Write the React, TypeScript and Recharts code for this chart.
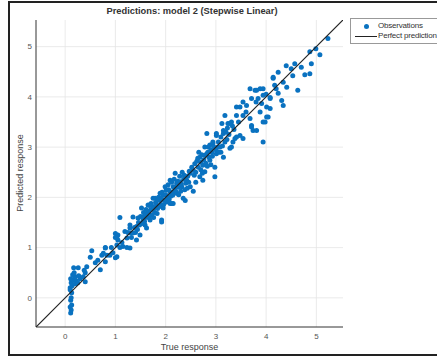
import { ScatterChart, Scatter, XAxis, YAxis, CartesianGrid } from "recharts";

// true response vs predicted response
const lowRange: [number, number][] = [
  [0.11, -0.3], [0.12, -0.24], [0.1, -0.18], [0.13, -0.14], [0.11, -0.05], [0.12, 0.0], [0.13, 0.1],
  [0.1, 0.16], [0.1, 0.2], [0.14, 0.24], [0.12, 0.3], [0.16, 0.36], [0.11, 0.38], [0.2, 0.42],
  [0.15, 0.46], [0.18, 0.5], [0.17, 0.6], [0.26, 0.6], [0.22, 0.34], [0.27, 0.44], [0.3, 0.38],
  [0.36, 0.42], [0.4, 0.32], [0.4, 0.5], [0.43, 0.62], [0.38, 0.55], [0.5, 0.81], [0.53, 0.94],
  [0.6, 0.7], [0.7, 0.56], [0.73, 0.85], [0.8, 0.72], [0.8, 1.0], [0.83, 0.85], [0.76, 0.89],
  [0.89, 0.85], [0.8, 0.99], [0.95, 0.9], [1.0, 0.8], [1.03, 0.82], [1.0, 1.2], [1.05, 1.25],
  [1.0, 1.28], [1.05, 1.15], [1.03, 1.05], [1.03, 1.19], [1.09, 1.6], [1.09, 1.0], [1.15, 1.02],
  [1.13, 1.1], [1.19, 1.32], [0.92, 1.0], [0.65, 0.75], [0.2, 0.28], [0.25, 0.3],
];

const midRange: [number, number][] = [
  [1.23, 1.0], [1.23, 1.19], [1.29, 0.99], [1.29, 1.45], [1.3, 1.29], [1.29, 1.39], [1.35, 1.29],
  [1.35, 1.61], [1.42, 1.42], [1.42, 1.15], [1.45, 1.59], [1.49, 1.25], [1.52, 1.79], [1.55, 1.55],
  [1.59, 1.45], [1.62, 1.39], [1.65, 1.85], [1.65, 1.72], [1.69, 1.55], [1.75, 1.98], [1.79, 1.98],
  [1.82, 1.85], [1.89, 2.08], [1.89, 1.94], [1.92, 1.51], [1.92, 1.55], [1.95, 1.79], [1.95, 2.04],
  [1.99, 2.21], [2.02, 1.91], [2.02, 1.94], [2.09, 2.34], [2.09, 1.88], [2.09, 2.11], [2.12, 1.88],
  [2.15, 2.11], [2.15, 2.21], [2.15, 1.88], [2.19, 2.48], [2.22, 2.28], [2.22, 2.08], [2.29, 2.31],
  [2.32, 2.21], [2.35, 1.98], [2.39, 1.94], [2.42, 2.34], [2.49, 2.48], [2.49, 2.21],
  [1.38, 1.4], [1.46, 1.5], [1.5, 1.62], [1.56, 1.7], [1.6, 1.6], [1.63, 1.66], [1.7, 1.75],
  [1.72, 1.65], [1.74, 1.82], [1.78, 1.7], [1.8, 1.9], [1.84, 1.78], [1.86, 2.0], [1.9, 1.86],
  [1.97, 1.95], [2.0, 2.05], [2.04, 2.0], [2.06, 2.15], [2.1, 2.02], [2.18, 2.2], [2.2, 2.12],
  [2.25, 2.2], [2.28, 2.42], [2.3, 2.12], [2.36, 2.36], [2.4, 2.28], [2.44, 2.42], [2.46, 2.3],
  [1.25, 1.3], [1.32, 1.2], [1.4, 1.3], [1.48, 1.45], [1.58, 1.52], [1.68, 1.84], [1.76, 1.6],
  [1.85, 1.95], [1.93, 2.1], [2.05, 2.25], [2.12, 2.3], [2.26, 2.05], [2.33, 2.5], [2.38, 2.15],
  [1.44, 1.36], [1.53, 1.48], [1.57, 1.62], [1.66, 1.6], [1.71, 1.88], [1.77, 1.78], [1.83, 1.68],
  [1.88, 1.82], [1.96, 1.86], [2.01, 2.14], [2.07, 1.96], [2.14, 2.04], [2.17, 2.36], [2.24, 2.32],
  [2.31, 2.26], [2.37, 2.44], [2.43, 2.18], [2.47, 2.52], [1.61, 1.76], [1.91, 1.98],
];

const highRange: [number, number][] = [
  [2.55, 2.54], [2.55, 2.12], [2.58, 2.67], [2.68, 2.8], [2.68, 2.41], [2.74, 2.64], [2.74, 2.34],
  [2.78, 2.84], [2.78, 2.51], [2.78, 3.0], [2.82, 3.27], [2.82, 2.87], [2.85, 3.0], [2.88, 2.74],
  [2.88, 3.04], [2.92, 2.9], [2.94, 3.07], [2.94, 3.1], [2.98, 2.6], [2.98, 2.41], [3.01, 2.87],
  [3.01, 3.23], [3.01, 3.27], [3.04, 3.0], [3.08, 3.0], [3.12, 3.47], [3.15, 3.33], [3.15, 2.8],
  [3.15, 3.27], [3.18, 3.1], [3.18, 3.63], [3.24, 3.47], [3.28, 2.98], [3.28, 3.47], [3.31, 3.5],
  [3.31, 3.0], [3.34, 3.1], [3.38, 3.17], [3.41, 3.2], [3.41, 3.63], [3.41, 3.8], [3.45, 3.5],
  [3.48, 3.23], [3.48, 3.8],
  [2.52, 2.6], [2.6, 2.5], [2.62, 2.72], [2.65, 2.6], [2.7, 2.7], [2.72, 2.85], [2.76, 2.75],
  [2.8, 2.68], [2.84, 2.9], [2.86, 2.8], [2.9, 2.95], [2.96, 3.0], [3.0, 2.95], [3.05, 3.1],
  [3.1, 3.2], [3.2, 3.3], [3.22, 3.15], [3.26, 3.25], [3.36, 3.35], [2.6, 2.3], [2.7, 2.55],
  [2.9, 2.65], [3.1, 2.9], [2.57, 2.44], [2.64, 2.78], [2.73, 2.48], [2.83, 2.62], [2.93, 2.82],
  [3.06, 2.9], [3.13, 3.02], [3.23, 3.38], [3.33, 3.42], [2.66, 2.9],
];

const topRange: [number, number][] = [
  [3.54, 3.17], [3.54, 3.9], [3.54, 3.63], [3.61, 3.83], [3.68, 3.57], [3.68, 4.16], [3.71, 3.97],
  [3.71, 3.43], [3.71, 3.4], [3.74, 3.33], [3.78, 4.13], [3.81, 4.13], [3.81, 3.33], [3.84, 3.97],
  [3.88, 3.7], [3.88, 4.16], [3.91, 3.87], [3.94, 4.16], [3.94, 3.5], [3.94, 3.1], [3.94, 4.03],
  [3.98, 3.5], [4.01, 3.6], [4.01, 3.8], [4.04, 3.6], [4.08, 3.97], [4.08, 3.77], [4.08, 3.99],
  [4.14, 4.39], [4.14, 4.37], [4.17, 4.23], [4.2, 4.16], [4.24, 4.49], [4.24, 4.07], [4.31, 3.93],
  [4.34, 4.29], [4.34, 3.83], [4.4, 4.62], [4.41, 4.19], [4.5, 4.56], [4.53, 4.42], [4.57, 4.66],
  [4.63, 4.13], [4.7, 4.59], [4.77, 4.44], [4.87, 4.9], [4.87, 4.46], [4.9, 4.66], [4.99, 4.96],
  [5.07, 4.84], [5.23, 5.16], [3.6, 3.7], [3.8, 3.9], [4.0, 4.05],
];

const ticks = [0, 1, 2, 3, 4, 5];
const axisMin = -0.58;
const axisMax = 5.53;
const perfectLine = [
  { x: axisMin, y: axisMin },
  { x: axisMax, y: axisMax },
];

const observations = [...lowRange, ...midRange, ...highRange, ...topRange].map(([x, y]) => ({ x, y }));

const BLUE = "#0a72c0";
const FONT = "'Liberation Sans', Arial, sans-serif";

const Dot = (props: any) => <circle cx={props.cx} cy={props.cy} r={2.5} fill={BLUE} />;

export default function App() {
  return (
    <div style={{ position: "fixed", left: 0, top: 0, width: 437, height: 356, background: "#fff", overflow: "hidden", fontFamily: FONT }}>
      <ScatterChart width={437} height={356} margin={{ top: 20, right: 94, bottom: 0, left: 0 }}>
        <CartesianGrid stroke="#e4e4e4" strokeWidth={0.8} horizontalValues={ticks} verticalValues={ticks} />
        <XAxis
          type="number"
          dataKey="x"
          domain={[axisMin, axisMax]}
          ticks={ticks}
          allowDataOverflow
          height={29}
          tickLine={false}
          tickSize={4}
          tickMargin={2}
          axisLine={{ stroke: "#333", strokeWidth: 1 }}
          tick={{ fontSize: 8, fill: "#555", fontFamily: FONT }}
        />
        <YAxis
          type="number"
          dataKey="y"
          domain={[axisMin, axisMax]}
          ticks={ticks}
          allowDataOverflow
          width={36}
          tickLine={false}
          tickSize={2}
          tickMargin={2}
          axisLine={{ stroke: "#333", strokeWidth: 1 }}
          tick={{ fontSize: 8, fill: "#555", fontFamily: FONT }}
        />
        <Scatter data={observations} shape={<Dot />} isAnimationActive={false} />
        <Scatter data={perfectLine} line={{ stroke: "#222", strokeWidth: 1.2 }} shape={() => null} isAnimationActive={false} />
      </ScatterChart>

      <div style={{ position: "absolute", left: 0, width: 384, top: 6, textAlign: "center", fontSize: 9.3, fontWeight: "bold", color: "#333" }}>
        Predictions: model 2 (Stepwise Linear)
      </div>
      <div style={{ position: "absolute", left: 36, width: 307, top: 342, textAlign: "center", fontSize: 9, color: "#444" }}>
        True response
      </div>
      <div
        style={{
          position: "absolute", left: 20, top: 173, width: 120, marginLeft: -60, marginTop: -6, height: 12,
          textAlign: "center", fontSize: 9, color: "#444", transform: "rotate(-90deg)", lineHeight: "12px",
        }}
      >
        Predicted response
      </div>

      <div style={{ position: "absolute", left: 350, top: 18, width: 100, height: 24, border: "1px solid #999", background: "#fff", fontSize: 8, color: "#333" }}>
        <div style={{ position: "absolute", left: 13, top: 5, width: 5, height: 5, borderRadius: 3, background: BLUE }} />
        <div style={{ position: "absolute", left: 27, top: 2, lineHeight: "10px", letterSpacing: -0.2 }}>Observations</div>
        <div style={{ position: "absolute", left: 4, top: 17, width: 22, height: 1.2, background: "#222" }} />
        <div style={{ position: "absolute", left: 27, top: 12, lineHeight: "10px", whiteSpace: "nowrap", letterSpacing: -0.2 }}>Perfect prediction</div>
      </div>

      <div style={{ position: "absolute", left: 8, top: 1, width: 440, height: 351, border: "2px solid #222", pointerEvents: "none" }} />
    </div>
  );
}
